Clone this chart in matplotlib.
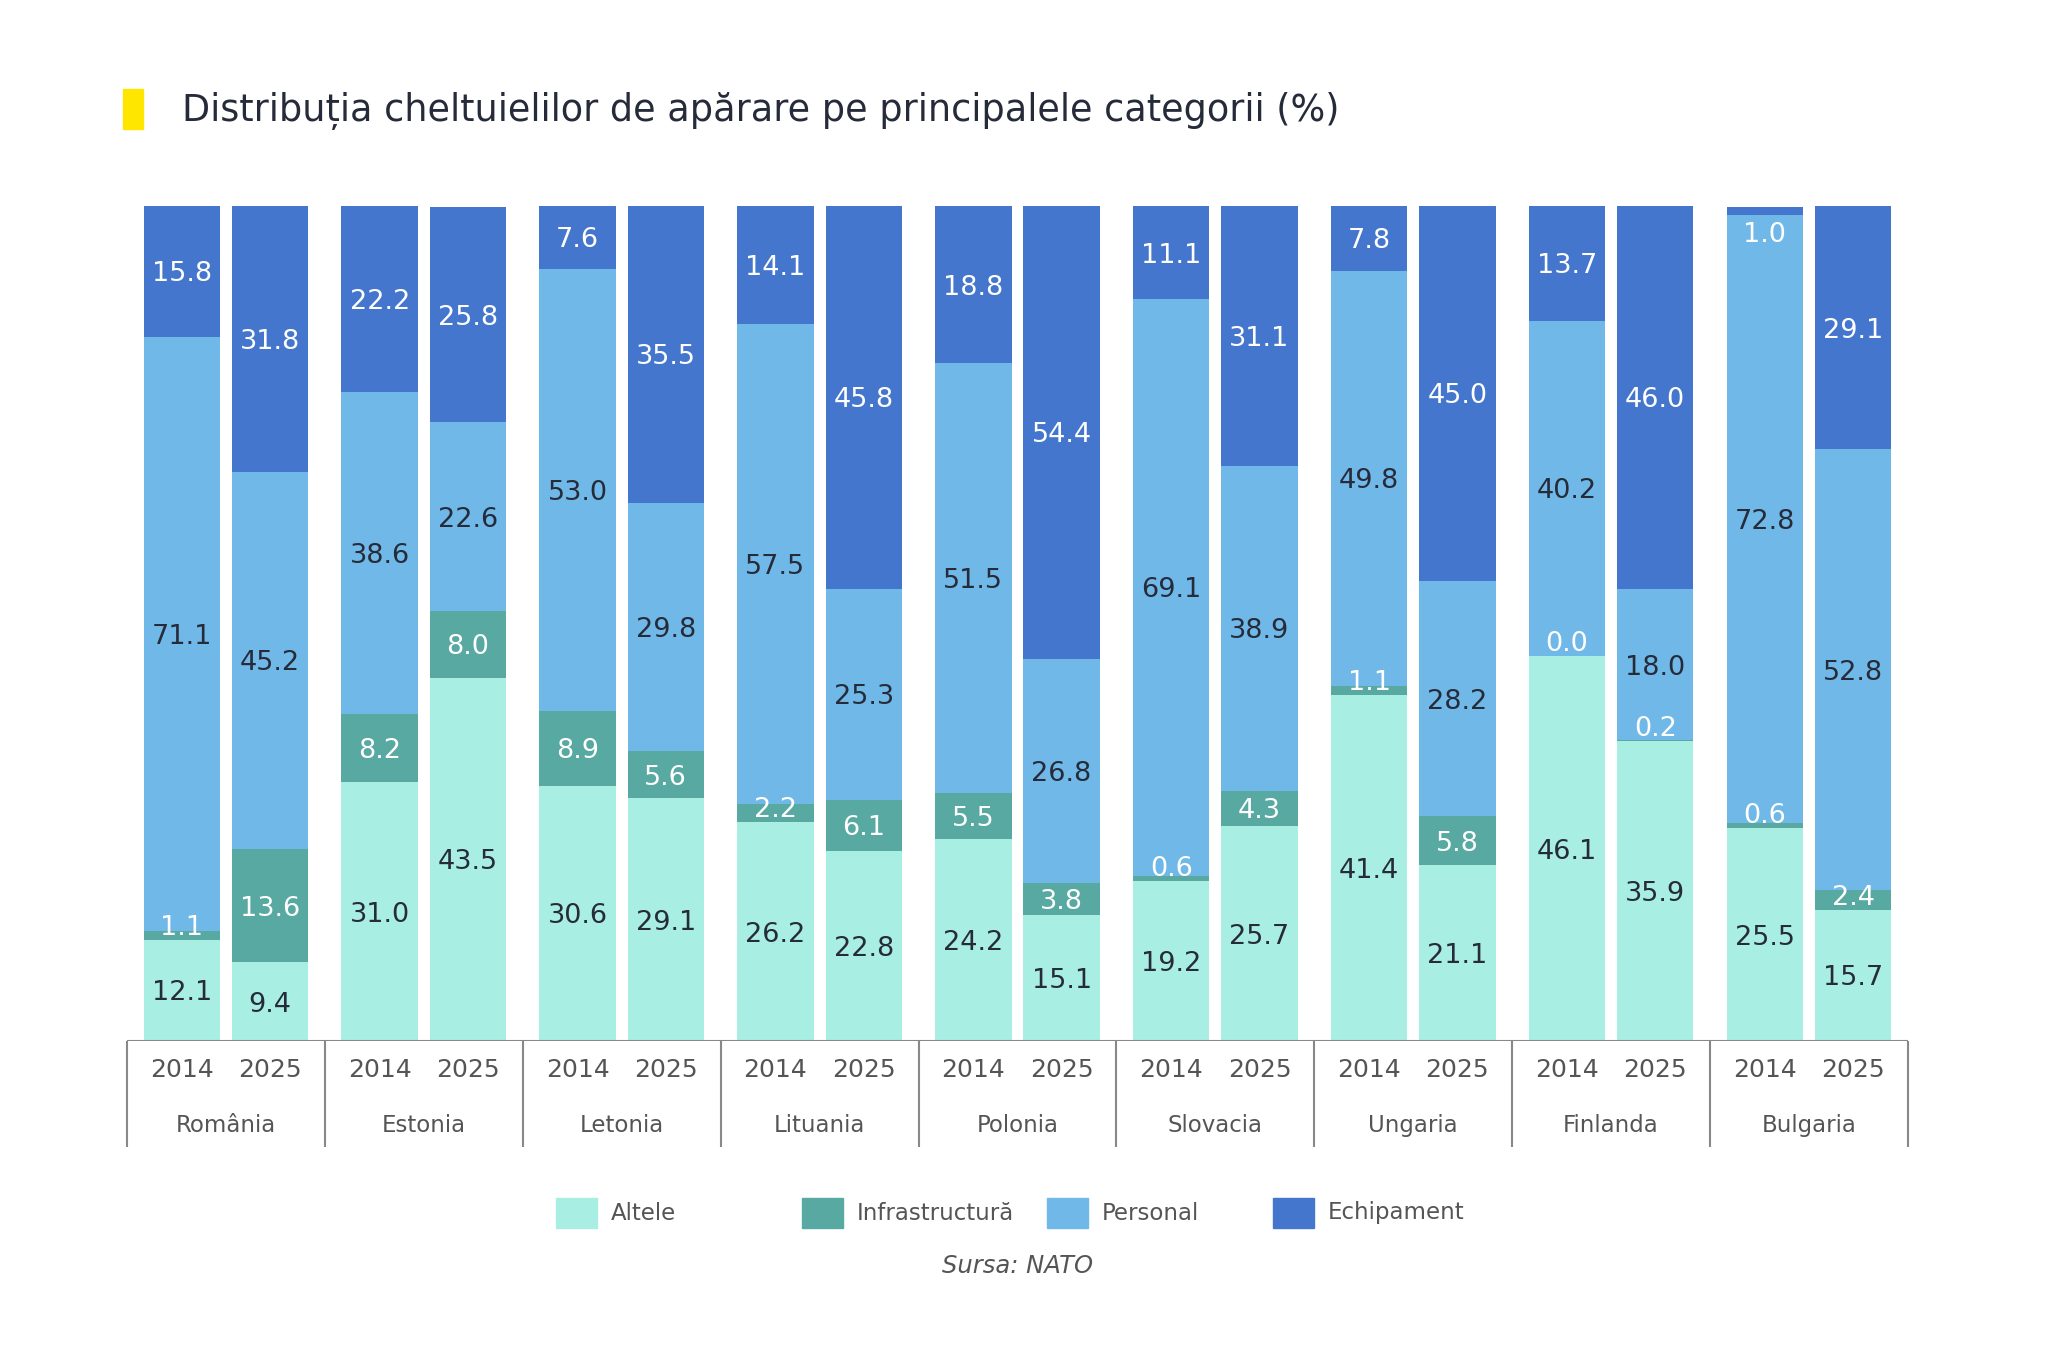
import matplotlib
matplotlib.use('agg')
import matplotlib.pyplot as plt
from matplotlib.patches import Rectangle
import numpy as np

countries = ['România', 'Estonia', 'Letonia', 'Lituania', 'Polonia',
             'Slovacia', 'Ungaria', 'Finlanda', 'Bulgaria']
years = ['2014', '2025']

# one value per country, for each year
altele_2014 = [12.1, 31.0, 30.6, 26.2, 24.2, 19.2, 41.4, 46.1, 25.5]
altele_2025 = [9.4, 43.5, 29.1, 22.8, 15.1, 25.7, 21.1, 35.9, 15.7]
infra_2014 = [1.1, 8.2, 8.9, 2.2, 5.5, 0.6, 1.1, 0.0, 0.6]
infra_2025 = [13.6, 8.0, 5.6, 6.1, 3.8, 4.3, 5.8, 0.2, 2.4]
personal_2014 = [71.1, 38.6, 53.0, 57.5, 51.5, 69.1, 49.8, 40.2, 72.8]
personal_2025 = [45.2, 22.6, 29.8, 25.3, 26.8, 38.9, 28.2, 18.0, 52.8]
echip_2014 = [15.8, 22.2, 7.6, 14.1, 18.8, 11.1, 7.8, 13.7, 1.0]
echip_2025 = [31.8, 25.8, 35.5, 45.8, 54.4, 31.1, 45.0, 46.0, 29.1]

categories = ['Altele', 'Infrastructură', 'Personal', 'Echipament']
colors = ['#a8eee3', '#57a9a1', '#70b8e8', '#4576cd']
label_colors = ['#262b3a', 'white', '#262b3a', 'white']

dark = '#262b3a'
grey = '#555555'

fig = plt.figure(figsize=(20.48, 13.65), dpi=100)
ax = fig.add_axes([0.0620, 0.2374, 0.8696, 0.6115])

series = {
    '2014': [altele_2014, infra_2014, personal_2014, echip_2014],
    '2025': [altele_2025, infra_2025, personal_2025, echip_2025],
}
offsets = {'2014': -0.223, '2025': 0.223}
width = 0.386
groups = np.arange(len(countries))

for yr in years:
    xs = groups + 0.5 + offsets[yr]
    bottom = np.zeros(len(countries))
    for k, vals in enumerate(series[yr]):
        vals = np.array(vals)
        ax.bar(xs, vals, width, bottom=bottom, color=colors[k], linewidth=0)
        for x, b, v in zip(xs, bottom, vals):
            y = b + v / 2
            if k == 1:
                y = max(y, b + 1.8)
            if k == 3:
                y = min(y, b + v - 3.0)
            ax.text(x, y, f'{v:.1f}', ha='center', va='center_baseline',
                    fontsize=19.5, color=label_colors[k])
        bottom = bottom + vals
    for x in xs:
        ax.text(x, -3.5, yr, ha='center', va='center', fontsize=18, color=grey)

for i, c in enumerate(countries):
    ax.text(i + 0.5, -10.1, c, ha='center', va='center', fontsize=16.5, color=grey)

ax.vlines(np.arange(len(countries) + 1), -12.7, 0, color='#888888', lw=1.5, clip_on=False)
ax.axhline(0, color='#888888', lw=1.5)

ax.set_xlim(0, len(countries))
ax.set_ylim(0, 100)
ax.axis('off')

# title with yellow marker
fig.add_artist(Rectangle((0.0601, 0.9055), 0.0098, 0.0293, color='#ffe600',
                         transform=fig.transFigure))
fig.text(0.0889, 0.919, 'Distribuția cheltuielilor de apărare pe principalele categorii (%)',
         fontsize=26.4, color=dark, va='center', ha='left')

# legend
legend_x = [556, 802, 1047, 1273]
for k, cat in enumerate(categories):
    x0 = legend_x[k] / 2048
    fig.add_artist(Rectangle((x0, 1 - 1228 / 1365), 41 / 2048, 30 / 1365,
                             color=colors[k], transform=fig.transFigure))
    fig.text(x0 + 55 / 2048, 1 - 1213 / 1365, cat, fontsize=16.5, color=grey,
             va='center', ha='left')

fig.text(1018 / 2048, 1 - 1266 / 1365, 'Sursa: NATO', fontsize=17.5, style='italic',
         color=grey, ha='center', va='center')

plt.savefig('out.png')
